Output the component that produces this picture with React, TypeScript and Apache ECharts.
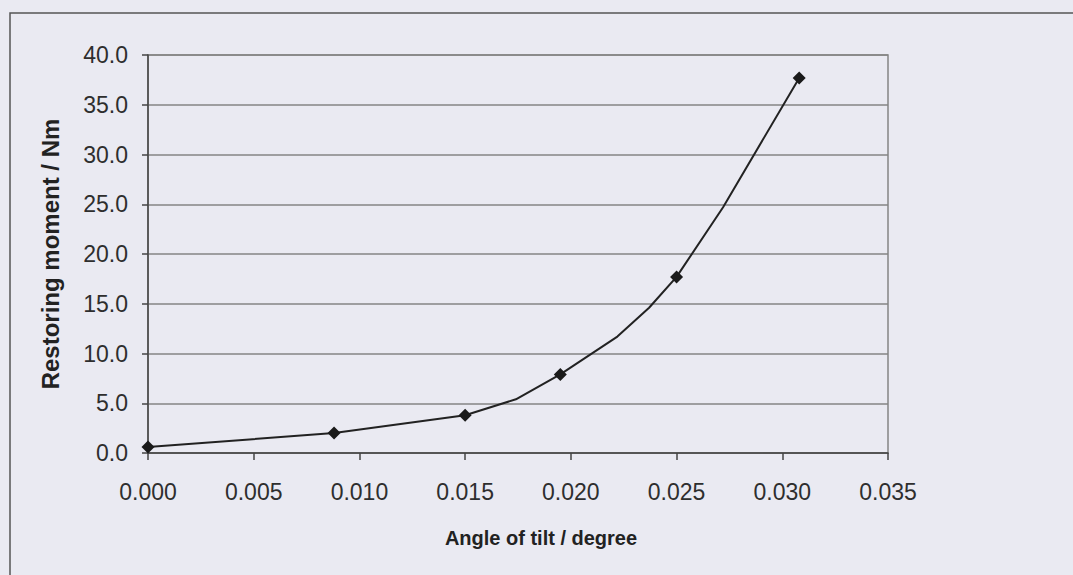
import React, { useEffect, useRef } from "react";
import * as echarts from "echarts";

// Angle of tilt (degree) and restoring moment (Nm)
const tiltAngles = [0.0, 0.0088, 0.015, 0.0174, 0.0195, 0.0222, 0.0237, 0.025, 0.0272, 0.0308];
const moments = [0.6, 2.0, 3.8, 5.4, 7.9, 11.7, 14.6, 17.7, 24.7, 37.7];
// which points carry a diamond marker
const marked = [true, true, true, false, true, false, false, true, false, true];

const xTitle = "Angle of tilt / degree";
const yTitle = "Restoring moment / Nm";

export default function App() {
  const ref = useRef<HTMLDivElement>(null);
  useEffect(() => {
    document.body.style.margin = "0";
    const chart = echarts.init(ref.current!, null, { renderer: "svg" });
    const data = tiltAngles.map((x, i) => ({
      value: [x, moments[i]],
      symbol: marked[i] ? "diamond" : "none",
    }));
    chart.setOption({
      animation: false,
      backgroundColor: "#EAEAF2",
      textStyle: { fontFamily: "'Liberation Sans', Arial, sans-serif" },
      graphic: [
        {
          type: "rect",
          shape: { x: 10, y: 13, width: 1100, height: 600 },
          style: { fill: "none", stroke: "#555", lineWidth: 1.5 },
          silent: true,
        },
      ],
      grid: {
        left: 148,
        right: 185,
        top: 55,
        bottom: 122,
        show: true,
        borderColor: "#858585",
        borderWidth: 1.5,
        backgroundColor: "transparent",
      },
      xAxis: {
        type: "value",
        min: 0,
        max: 0.035,
        interval: 0.005,
        name: xTitle,
        nameLocation: "middle",
        nameGap: 75,
        nameTextStyle: {
          fontSize: 20,
          fontWeight: "bold",
          color: "#222",
          padding: [0, 0, 0, 46],
        },
        axisLine: { show: true, onZero: false, lineStyle: { color: "#444", width: 1.5 } },
        axisTick: { show: true, length: 7, lineStyle: { color: "#444", width: 1.5 } },
        axisLabel: {
          fontSize: 23,
          color: "#2e2e2e",
          margin: 27,
          formatter: (v: number) => v.toFixed(3),
        },
        splitLine: { show: false },
      },
      yAxis: {
        type: "value",
        min: 0,
        max: 40,
        interval: 5,
        name: yTitle,
        nameLocation: "middle",
        nameGap: 86,
        nameTextStyle: { fontSize: 24, fontWeight: "bold", color: "#222" },
        axisLine: { show: true, onZero: false, lineStyle: { color: "#444", width: 1.5 } },
        axisTick: { show: true, length: 6, lineStyle: { color: "#444", width: 1.5 } },
        axisLabel: {
          fontSize: 23,
          color: "#2e2e2e",
          margin: 20,
          formatter: (v: number) => v.toFixed(1),
        },
        splitLine: { show: true, lineStyle: { color: "#858585", width: 1.5 } },
      },
      series: [
        {
          type: "line",
          data,
          showAllSymbol: true,
          symbolSize: 13,
          itemStyle: { color: "#1a1a1a" },
          lineStyle: { color: "#222", width: 2 },
        },
      ],
    });
    return () => chart.dispose();
  }, []);
  return (
    <div
      ref={ref}
      style={{ position: "fixed", left: 0, top: 0, width: 1073, height: 575 }}
    />
  );
}
